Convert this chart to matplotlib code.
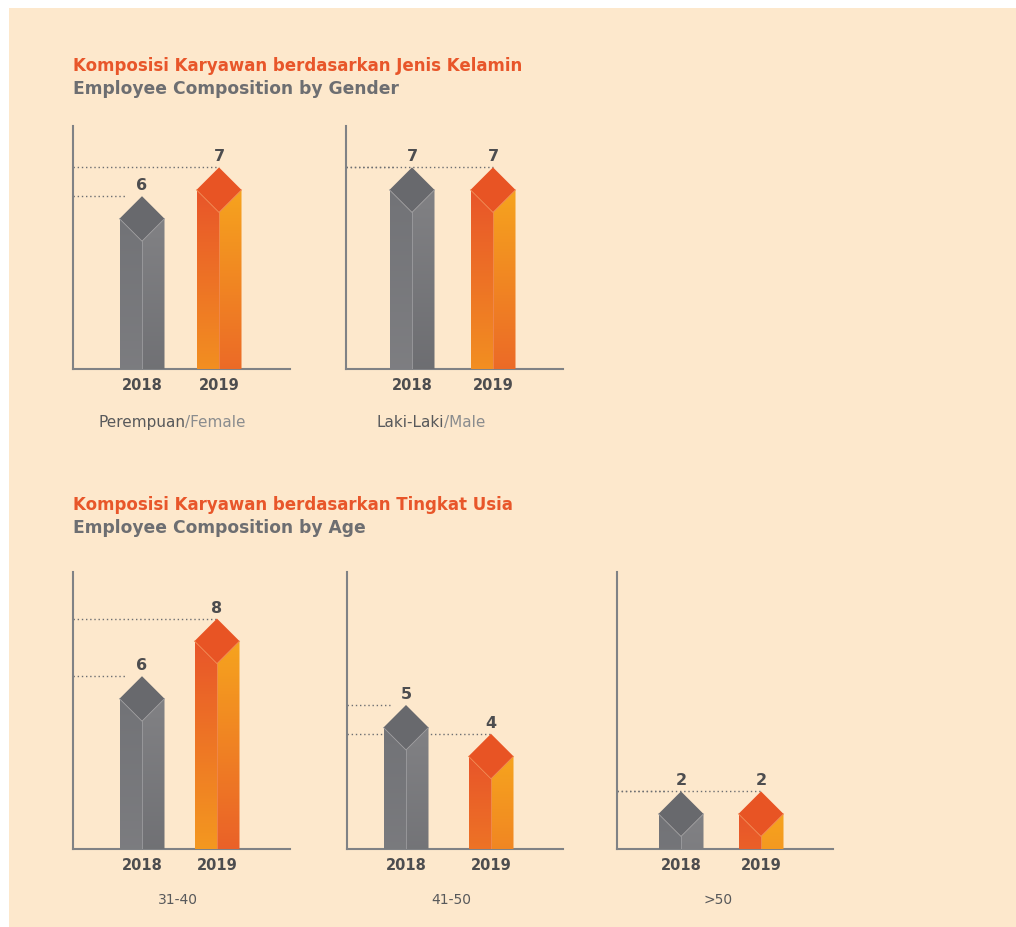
import matplotlib
matplotlib.use("Agg")
import matplotlib.pyplot as plt
import numpy as np
from matplotlib.colors import to_rgb
from matplotlib.patches import Polygon, Rectangle

plt.rcParams['font.family'] = ['DejaVu Sans']

# data
years = ['2018', '2019']
gender_groups = ['Perempuan/Female', 'Laki-Laki/Male']
gender_2018 = [6, 7]
gender_2019 = [7, 7]
age_groups = ['31-40', '41-50', '>50']
age_2018 = [6, 5, 2]
age_2019 = [8, 4, 2]

W, H = 1016, 928
PPU = 28.8      # pixels per employee
HALF = 22.5     # half bar width in px

ORANGE = '#E8562A'
GREYTXT = '#6D6E71'
DARK = '#4D4D4F'
AXC = '#808285'

fig = plt.figure(figsize=(W / 100, H / 100), dpi=100, facecolor='white')
fig.patches.append(Rectangle((9 / W, 0), 1 - 9 / W, 1 - 9 / H, transform=fig.transFigure,
                             facecolor='#FDE8CC', edgecolor='none', zorder=-5))

styles = {
    0: dict(top='#68696D', lt='#727377', lb='#828285', rt='#818184', rb='#66676B', edge='#9C9C9F'),
    1: dict(top='#E85424', lt='#E8552A', lb='#F6A41E', rt='#F6A41E', rb='#E8552A', edge='#F08850'),
}


def face(ax, poly, ctop, cbot, x0, x1, ytop):
    g = np.linspace(0, 1, 128)[:, None, None]
    img = np.array(to_rgb(ctop)) * (1 - g) + np.array(to_rgb(cbot)) * g
    im = ax.imshow(img, extent=(x0, x1, ytop - 8.5, ytop), origin='upper', aspect='auto',
                   interpolation='bilinear', zorder=3)
    im.set_clip_path(Polygon(poly, closed=True, transform=ax.transData))


def panel(x0, x1, ytop, ybot, off0, off1, vals, label, lab_x, lab_y):
    ax = fig.add_axes([x0 / W, 1 - ybot / H, (x1 - x0) / W, (ybot - ytop) / H])
    ax.set_facecolor('none')
    unit = off1 - off0
    xmin, xmax = -off0 / unit, (x1 - x0 - off0) / unit
    hw = HALF / unit
    cap = HALF / PPU
    for i, v in enumerate(vals):
        s = styles[i]
        c = i
        sh = v - cap
        fr = v - 2 * cap
        face(ax, [(c - hw, 0), (c - hw, sh), (c, fr), (c, 0)], s['lt'], s['lb'], c - hw, c, sh)
        face(ax, [(c, 0), (c, fr), (c + hw, sh), (c + hw, 0)], s['rt'], s['rb'], c, c + hw, sh)
        ax.add_patch(Polygon([(c - hw, sh), (c, v), (c + hw, sh), (c, fr)], closed=True,
                             facecolor=s['top'], edgecolor='none', zorder=4))
        ax.plot([c - hw, c, c + hw], [sh, fr, sh], color=s['edge'], lw=0.6, zorder=5)
        ax.plot([c, c], [0, fr], color=s['edge'], lw=0.6, zorder=5)
        end = c - 16 / unit if i == 0 else c
        ax.plot([xmin, end], [v, v], color=GREYTXT, lw=1, ls=(0, (1, 2)), zorder=2)
        ax.text(c, v + 4 / PPU, str(v), ha='center', va='bottom', fontsize=11.5,
                fontweight='bold', color=DARK, zorder=6)
    ax.set_xlim(xmin, xmax)
    ax.set_ylim(0, (ybot - ytop) / PPU)
    for sp in ['top', 'right']:
        ax.spines[sp].set_visible(False)
    for sp in ['left', 'bottom']:
        ax.spines[sp].set_color(AXC)
        ax.spines[sp].set_linewidth(1.5)
    ax.set_yticks([])
    ax.set_xticks([0, 1], years)
    ax.tick_params(axis='x', length=0, pad=6)
    for t in ax.get_xticklabels():
        t.set_fontweight('bold')
        t.set_fontsize(10.5)
        t.set_color(DARK)
    if '/' in label:
        a, b = label.split('/')
        t1 = fig.text(lab_x / W, 1 - lab_y / H, a, fontsize=11, color='#58595B', va='center', ha='left')
        ax.annotate('/' + b, xy=(1, 0), xycoords=t1, va='bottom', ha='left', fontsize=11,
                    color='#8A8C8E', annotation_clip=False)
    else:
        fig.text(lab_x / W, 1 - lab_y / H, label, fontsize=10, color='#58595B', va='center', ha='center')
    return ax


# titles
fig.text(73 / W, 1 - 66 / H, 'Komposisi Karyawan berdasarkan Jenis Kelamin', fontsize=12,
         fontweight='bold', color=ORANGE, va='center')
fig.text(73 / W, 1 - 89 / H, 'Employee Composition by Gender', fontsize=12.3,
         fontweight='bold', color=GREYTXT, va='center')
fig.text(73 / W, 1 - 505 / H, 'Komposisi Karyawan berdasarkan Tingkat Usia', fontsize=12,
         fontweight='bold', color=ORANGE, va='center')
fig.text(73 / W, 1 - 528 / H, 'Employee Composition by Age', fontsize=12.3,
         fontweight='bold', color=GREYTXT, va='center')

# gender panels
panel(73, 290, 127, 370, 69, 146, [gender_2018[0], gender_2019[0]], gender_groups[0], 98, 423)
panel(346, 563, 127, 370, 66, 147, [gender_2018[1], gender_2019[1]], gender_groups[1], 376, 423)

# age panels
panel(73, 290, 573, 850, 69, 144, [age_2018[0], age_2019[0]], age_groups[0], 178, 900)
panel(347, 563, 573, 850, 59, 144, [age_2018[1], age_2019[1]], age_groups[1], 451, 900)
panel(617, 833, 573, 850, 64, 144, [age_2018[2], age_2019[2]], age_groups[2], 718, 900)

fig.savefig('out.png', dpi=100, facecolor=fig.get_facecolor())
